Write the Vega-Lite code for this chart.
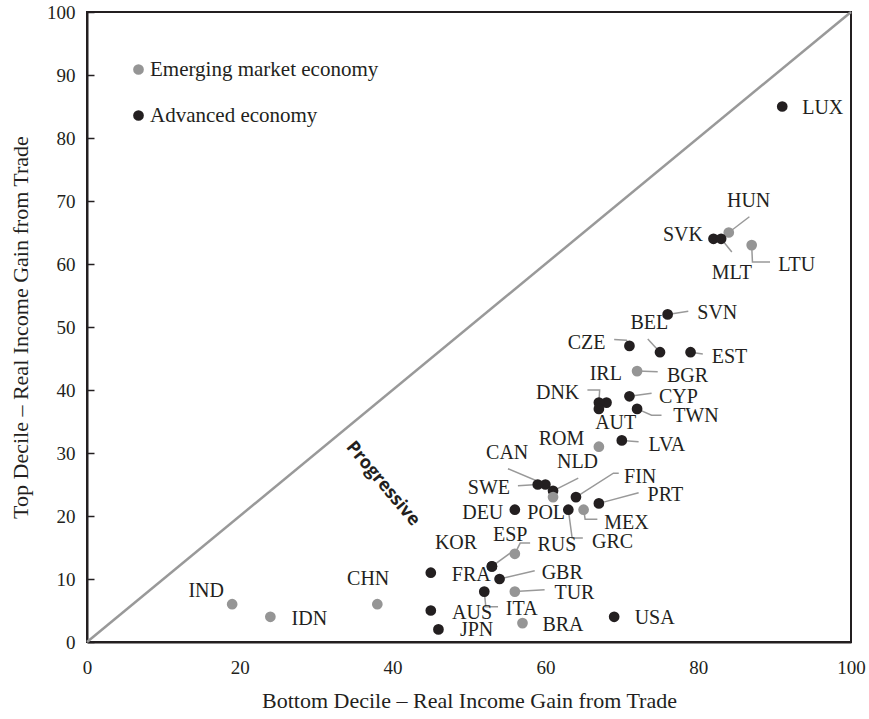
{
  "$schema": "https://vega.github.io/schema/vega-lite/v6.json",
  "width": 764,
  "height": 630,
  "autosize": {"type": "none"},
  "padding": {"left": 87, "top": 12, "right": 18, "bottom": 77},
  "background": "white",
  "config": {
    "view": {"stroke": "#231f20", "strokeWidth": 2},
    "font": "Liberation Serif",
    "axis": {
      "grid": false,
      "domainColor": "#231f20",
      "domainWidth": 2,
      "labelFont": "Liberation Serif",
      "labelFontSize": 19,
      "labelColor": "#231f20",
      "titleFont": "Liberation Serif",
      "titleFontSize": 22,
      "titleFontWeight": "normal",
      "titleColor": "#231f20"
    },
    "legend": {
      "labelFont": "Liberation Serif",
      "labelFontSize": 21,
      "labelColor": "#231f20",
      "labelLimit": 0
    }
  },
  "datasets": {
    "pts": [
      {"country": "LUX", "type": "Advanced economy", "x": 91, "y": 85, "lx": 96.3, "ly": 84.7},
      {"country": "HUN", "type": "Emerging market economy", "x": 84, "y": 65, "lx": 86.6, "ly": 70.0},
      {"country": "SVK", "type": "Advanced economy", "x": 82, "y": 64, "lx": 78.0, "ly": 64.6},
      {"country": "MLT", "type": "Advanced economy", "x": 83, "y": 64, "lx": 84.4, "ly": 58.5},
      {"country": "LTU", "type": "Emerging market economy", "x": 87, "y": 63, "lx": 92.9, "ly": 59.8},
      {"country": "SVN", "type": "Advanced economy", "x": 76, "y": 52, "lx": 82.5, "ly": 52.2},
      {"country": "BEL", "type": "Advanced economy", "x": 75, "y": 46, "lx": 73.6, "ly": 50.6},
      {"country": "CZE", "type": "Advanced economy", "x": 71, "y": 47, "lx": 65.4, "ly": 47.4},
      {"country": "EST", "type": "Advanced economy", "x": 79, "y": 46, "lx": 84.1, "ly": 45.3},
      {"country": "BGR", "type": "Emerging market economy", "x": 72, "y": 43, "lx": 78.6, "ly": 42.2},
      {"country": "IRL", "type": "Advanced economy", "x": 68, "y": 38, "lx": 67.9, "ly": 42.5},
      {"country": "DNK", "type": "Advanced economy", "x": 67, "y": 38, "lx": 61.6, "ly": 39.5},
      {"country": "AUT", "type": "Advanced economy", "x": 67, "y": 37, "lx": 69.2, "ly": 34.7},
      {"country": "CYP", "type": "Advanced economy", "x": 71, "y": 39, "lx": 77.4, "ly": 38.9},
      {"country": "TWN", "type": "Advanced economy", "x": 72, "y": 37, "lx": 79.7, "ly": 35.8},
      {"country": "LVA", "type": "Advanced economy", "x": 70, "y": 32, "lx": 75.9, "ly": 31.3},
      {"country": "ROM", "type": "Emerging market economy", "x": 67, "y": 31, "lx": 62.1, "ly": 32.3},
      {"country": "CAN", "type": "Advanced economy", "x": 60, "y": 25, "lx": 55.0, "ly": 30.0},
      {"country": "SWE", "type": "Advanced economy", "x": 59, "y": 25, "lx": 52.6, "ly": 24.4},
      {"country": "NLD", "type": "Advanced economy", "x": 61, "y": 24, "lx": 64.2, "ly": 28.5},
      {"country": "POL", "type": "Emerging market economy", "x": 61, "y": 23, "lx": 60.1, "ly": 20.5},
      {"country": "FIN", "type": "Advanced economy", "x": 64, "y": 23, "lx": 72.4, "ly": 26.2},
      {"country": "PRT", "type": "Advanced economy", "x": 67, "y": 22, "lx": 75.7, "ly": 23.3},
      {"country": "DEU", "type": "Advanced economy", "x": 56, "y": 21, "lx": 51.8, "ly": 20.5},
      {"country": "GRC", "type": "Advanced economy", "x": 63, "y": 21, "lx": 68.8, "ly": 15.8},
      {"country": "MEX", "type": "Emerging market economy", "x": 65, "y": 21, "lx": 70.6, "ly": 18.9},
      {"country": "RUS", "type": "Emerging market economy", "x": 56, "y": 14, "lx": 61.5, "ly": 15.4},
      {"country": "ESP", "type": "Advanced economy", "x": 53, "y": 12, "lx": 55.4, "ly": 17.0},
      {"country": "FRA", "type": "Advanced economy", "x": 53, "y": 12, "lx": 50.3, "ly": 10.6},
      {"country": "KOR", "type": "Advanced economy", "x": 45, "y": 11, "lx": 48.3, "ly": 15.7},
      {"country": "GBR", "type": "Advanced economy", "x": 54, "y": 10, "lx": 62.2, "ly": 11.0},
      {"country": "TUR", "type": "Emerging market economy", "x": 56, "y": 8, "lx": 63.8, "ly": 7.7},
      {"country": "ITA", "type": "Advanced economy", "x": 52, "y": 8, "lx": 56.9, "ly": 5.3},
      {"country": "AUS", "type": "Advanced economy", "x": 45, "y": 5, "lx": 50.4, "ly": 4.6},
      {"country": "JPN", "type": "Advanced economy", "x": 46, "y": 2, "lx": 51.0, "ly": 1.9},
      {"country": "BRA", "type": "Emerging market economy", "x": 57, "y": 3, "lx": 62.3, "ly": 2.7},
      {"country": "USA", "type": "Advanced economy", "x": 69, "y": 4, "lx": 74.3, "ly": 3.8},
      {"country": "IND", "type": "Emerging market economy", "x": 19, "y": 6, "lx": 15.6, "ly": 8.1},
      {"country": "IDN", "type": "Emerging market economy", "x": 24, "y": 4, "lx": 29.1, "ly": 3.7},
      {"country": "CHN", "type": "Emerging market economy", "x": 38, "y": 6, "lx": 36.8, "ly": 10.0}
    ],
    "leaders": [
      {"id": "HUN", "ord": 0, "x": 84, "y": 65}, {"id": "HUN", "ord": 1, "x": 86.7, "y": 67.5},
      {"id": "MLT", "ord": 0, "x": 83, "y": 64}, {"id": "MLT", "ord": 1, "x": 84.4, "y": 61.9},
      {"id": "LTU", "ord": 0, "x": 87, "y": 63}, {"id": "LTU", "ord": 1, "x": 87.1, "y": 60.3}, {"id": "LTU", "ord": 2, "x": 89.4, "y": 60.3},
      {"id": "SVN", "ord": 0, "x": 76, "y": 52}, {"id": "SVN", "ord": 1, "x": 78.7, "y": 52.5},
      {"id": "BEL", "ord": 0, "x": 75, "y": 46}, {"id": "BEL", "ord": 1, "x": 73.4, "y": 48.1},
      {"id": "CZE", "ord": 0, "x": 71, "y": 47}, {"id": "CZE", "ord": 1, "x": 70.6, "y": 47.9}, {"id": "CZE", "ord": 2, "x": 69.0, "y": 48.0},
      {"id": "EST", "ord": 0, "x": 79, "y": 46}, {"id": "EST", "ord": 1, "x": 80.6, "y": 45.7},
      {"id": "BGR", "ord": 0, "x": 72, "y": 43}, {"id": "BGR", "ord": 1, "x": 74.7, "y": 42.9},
      {"id": "DNK", "ord": 0, "x": 67, "y": 38}, {"id": "DNK", "ord": 1, "x": 67.1, "y": 40.0}, {"id": "DNK", "ord": 2, "x": 65.5, "y": 40.0},
      {"id": "CYP", "ord": 0, "x": 71, "y": 39}, {"id": "CYP", "ord": 1, "x": 73.9, "y": 39.5},
      {"id": "TWN", "ord": 0, "x": 72, "y": 37}, {"id": "TWN", "ord": 1, "x": 73.9, "y": 36.0}, {"id": "TWN", "ord": 2, "x": 75.2, "y": 36.0},
      {"id": "LVA", "ord": 0, "x": 70, "y": 32}, {"id": "LVA", "ord": 1, "x": 72.2, "y": 31.8},
      {"id": "CAN", "ord": 0, "x": 60, "y": 25}, {"id": "CAN", "ord": 1, "x": 55.1, "y": 27.5},
      {"id": "NLD", "ord": 0, "x": 61, "y": 24}, {"id": "NLD", "ord": 1, "x": 64.3, "y": 26.0},
      {"id": "SWE", "ord": 0, "x": 59, "y": 25}, {"id": "SWE", "ord": 1, "x": 56.4, "y": 24.8},
      {"id": "FIN", "ord": 0, "x": 64, "y": 23}, {"id": "FIN", "ord": 1, "x": 68.9, "y": 26.8}, {"id": "FIN", "ord": 2, "x": 69.6, "y": 26.8},
      {"id": "PRT", "ord": 0, "x": 67, "y": 22}, {"id": "PRT", "ord": 1, "x": 72.2, "y": 23.7},
      {"id": "MEX", "ord": 0, "x": 65, "y": 21}, {"id": "MEX", "ord": 1, "x": 65.2, "y": 19.5}, {"id": "MEX", "ord": 2, "x": 66.8, "y": 19.5},
      {"id": "GRC", "ord": 0, "x": 63, "y": 21}, {"id": "GRC", "ord": 1, "x": 63.5, "y": 16.5}, {"id": "GRC", "ord": 2, "x": 64.9, "y": 16.5},
      {"id": "RUS", "ord": 0, "x": 56, "y": 14}, {"id": "RUS", "ord": 1, "x": 56.7, "y": 15.7}, {"id": "RUS", "ord": 2, "x": 58.0, "y": 15.7},
      {"id": "ESP", "ord": 0, "x": 53, "y": 12}, {"id": "ESP", "ord": 1, "x": 55.5, "y": 14.2},
      {"id": "GBR", "ord": 0, "x": 54, "y": 10}, {"id": "GBR", "ord": 1, "x": 58.6, "y": 11.3},
      {"id": "TUR", "ord": 0, "x": 56, "y": 8}, {"id": "TUR", "ord": 1, "x": 59.9, "y": 8.3},
      {"id": "ITA", "ord": 0, "x": 52, "y": 8}, {"id": "ITA", "ord": 1, "x": 52.2, "y": 5.6}, {"id": "ITA", "ord": 2, "x": 53.8, "y": 5.6}
    ]
  },
  "layer": [
    {
      "data": {"values": [{"x0": 0, "y0": 0, "x1": 100, "y1": 100}]},
      "mark": {"type": "rule", "color": "#999999", "strokeWidth": 2.5},
      "encoding": {
        "x": {"field": "x0", "type": "quantitative", "title": "Bottom Decile – Real Income Gain from Trade"},
        "y": {"field": "y0", "type": "quantitative", "title": "Top Decile – Real Income Gain from Trade"},
        "x2": {"field": "x1"},
        "y2": {"field": "y1"}
      }
    },
    {
      "data": {"name": "leaders"},
      "mark": {"type": "line", "color": "#999999", "strokeWidth": 1.5},
      "encoding": {
        "x": {"field": "x", "type": "quantitative", "title": "Bottom Decile – Real Income Gain from Trade"},
        "y": {"field": "y", "type": "quantitative", "title": "Top Decile – Real Income Gain from Trade"},
        "detail": {"field": "id"},
        "order": {"field": "ord"}
      }
    },
    {
      "data": {"name": "pts"},
      "mark": {"type": "circle", "opacity": 1, "size": 115},
      "encoding": {
        "x": {
          "field": "x", "type": "quantitative",
          "title": "Bottom Decile – Real Income Gain from Trade",
          "scale": {"domain": [0, 100], "nice": false},
          "axis": {"values": [0, 20, 40, 60, 80, 100], "ticks": false, "labelPadding": 16, "titlePadding": 13, "labelFlush": false}
        },
        "y": {
          "field": "y", "type": "quantitative",
          "title": "Top Decile – Real Income Gain from Trade",
          "scale": {"domain": [0, 100], "nice": false},
          "axis": {"values": [0, 10, 20, 30, 40, 50, 60, 70, 80, 90, 100], "tickSize": -7, "tickWidth": 1.5, "tickColor": "#231f20", "labelPadding": 19, "titlePadding": 14, "labelFlush": false}
        },
        "color": {
          "field": "type", "type": "nominal",
          "scale": {"domain": ["Emerging market economy", "Advanced economy"], "range": ["#959595", "#231f20"]},
          "legend": {
            "title": null, "orient": "none", "legendX": 41, "legendY": 47,
            "symbolType": "circle", "symbolSize": 115, "symbolStrokeWidth": 0,
            "rowPadding": 24, "labelOffset": 1, "padding": 0
          }
        }
      }
    },
    {
      "data": {"name": "pts"},
      "mark": {"type": "text", "font": "Liberation Serif", "fontSize": 20, "color": "#231f20", "align": "center", "baseline": "middle"},
      "encoding": {
        "x": {"field": "lx", "type": "quantitative", "title": "Bottom Decile – Real Income Gain from Trade"},
        "y": {"field": "ly", "type": "quantitative", "title": "Top Decile – Real Income Gain from Trade"},
        "text": {"field": "country"}
      }
    },
    {
      "data": {"values": [{"px": 38.7, "py": 25.1, "label": "Progressive"}]},
      "mark": {"type": "text", "font": "Open Sans", "fontWeight": "bold", "fontSize": 18, "angle": 50, "color": "#231f20", "align": "center", "baseline": "middle"},
      "encoding": {
        "x": {"field": "px", "type": "quantitative", "title": "Bottom Decile – Real Income Gain from Trade"},
        "y": {"field": "py", "type": "quantitative", "title": "Top Decile – Real Income Gain from Trade"},
        "text": {"field": "label"}
      }
    }
  ]
}
